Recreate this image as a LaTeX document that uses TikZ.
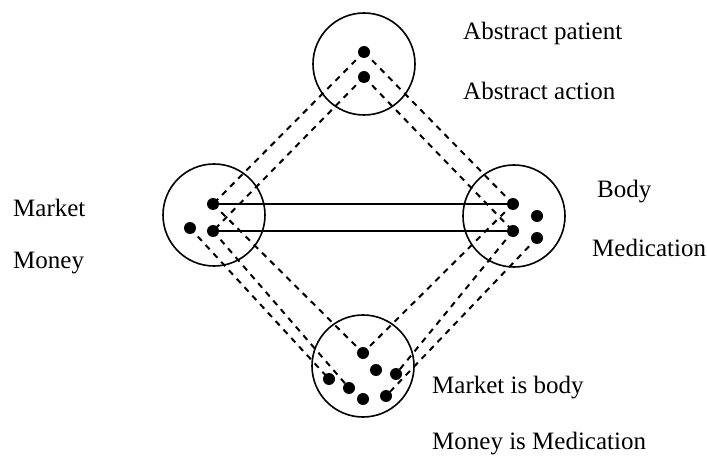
\documentclass[tikz,border=0pt]{standalone}
\usepackage{fontspec}
\setmainfont{Liberation Serif}
\begin{document}
\begin{tikzpicture}[x=1pt,y=-1pt,
  ring/.style={circle,draw,line width=1.6pt,minimum size=102pt,inner sep=0pt},
  dot/.style={circle,fill=black,inner sep=0pt,minimum size=12pt},
  dsh/.style={line width=2pt,dash pattern=on 6pt off 5.5pt},
  solid line/.style={line width=2.8pt},
  lbl/.style={anchor=base west,inner sep=0pt,font=\fontsize{25}{30}\selectfont}]
\useasboundingbox (0,0) rectangle (707,457);
% circles
\node[ring] (ct) at (364,64) {};
\node[ring] (cl) at (214,215) {};
\node[ring] (cr) at (514,216) {};
\node[ring] (cb) at (363,366) {};
% dots
\node[dot] (t1) at (364,52) {};
\node[dot] (t2) at (364,77) {};
\node[dot] (l1) at (213,204) {};
\node[dot] (l2) at (213,231) {};
\node[dot] (l3) at (190,228) {};
\node[dot] (r1) at (513,204) {};
\node[dot] (r2) at (513,231) {};
\node[dot] (r3) at (537,216) {};
\node[dot] (r4) at (537,238) {};
\node[dot] (b1) at (363,353) {};
\node[dot] (b2) at (376,370) {};
\node[dot] (b3) at (396,374) {};
\node[dot] (b4) at (329,379) {};
\node[dot] (b5) at (349,388) {};
\node[dot] (b6) at (363,399) {};
\node[dot] (b7) at (386,396) {};
% solid connectors
\draw[solid line] (l1.center) -- (r1.center);
\draw[solid line] (l2.center) -- (r2.center);
% dashed connectors
\draw[dsh] (t1.center) -- (l1.center);
\draw[dsh] (t1.center) -- (r1.center);
\draw[dsh] (t2.center) -- (l2.center);
\draw[dsh] (t2.center) -- (r2.center);
\draw[dsh] (l1.center) -- (b1.center);
\draw[dsh] (r1.center) -- (b1.center);
\draw[dsh] (l2.center) -- (b5.center);
\draw[dsh] (l3.center) -- (b4.center);
\draw[dsh] (r2.center) -- (b3.center);
\draw[dsh] (r4.center) -- (b7.center);
% labels
\node[lbl] (ap) at (463,40) {Abstract patient};
\node[lbl] (aa) at (463,100) {Abstract action};
\node[lbl] (mk) at (13,217) {Market};
\node[lbl] (mo) at (13,269) {Money};
\node[lbl] (bd) at (597,198) {Body};
\node[lbl] (md) at (592,257) {Medication};
\node[lbl] (mb) at (432,393) {Market is body};
\node[lbl] (mm) at (432,449) {Money is Medication};
\end{tikzpicture}
\end{document}
